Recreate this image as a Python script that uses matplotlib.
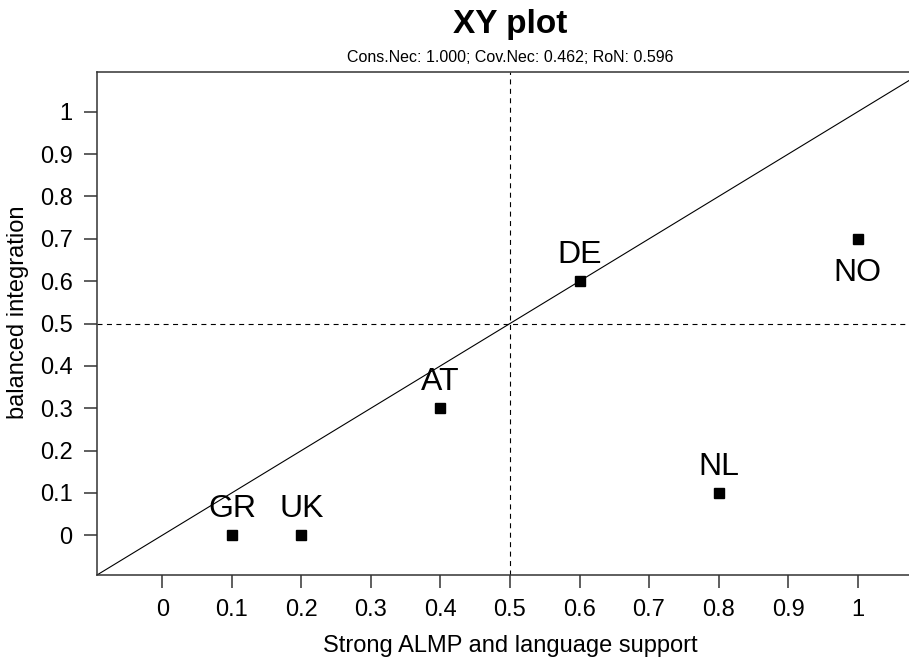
import matplotlib
matplotlib.use('Agg')
import matplotlib.pyplot as plt
from matplotlib.ticker import FuncFormatter

plt.rcParams['font.family'] = ['Liberation Sans', 'DejaVu Sans']

countries = ['GR', 'UK', 'AT', 'DE', 'NL', 'NO']
almp = [0.1, 0.2, 0.4, 0.6, 0.8, 1.0]
integration = [0.0, 0.0, 0.3, 0.6, 0.1, 0.7]
below = ['NO']          # labels drawn under the point

ticks = [i / 10 for i in range(11)]
lim = (-0.094, 1.094)
title = 'XY plot'
subtitle = 'Cons.Nec: 1.000; Cov.Nec: 0.462; RoN: 0.596'
xlab = 'Strong ALMP and language support'
ylab = 'balanced integration'

dark = '#333333'

fig = plt.figure(figsize=(9.09, 6.57), dpi=100)
# the right side of the box is cut off in the reference
ax = fig.add_axes([0.1067, 0.1248, 0.9087, 0.7656])

ax.axline((0, 0), slope=1, color='black', lw=0.8)
ax.axvline(0.5, color='black', lw=0.8, ls=(0, (4.5, 4)))
ax.axhline(0.5, color='black', lw=0.8, ls=(0, (4.5, 4)))

ax.plot(almp, integration, 's', color='black', ms=7.2, ls='none')

for c, xv, yv in zip(countries, almp, integration):
    if c in below:
        off = (0, -42)
    else:
        off = (0, 18)
    ax.annotate(c, (xv, yv), xytext=off, textcoords='offset pixels',
                ha='center', va='baseline', fontsize=23)

ax.set_xlim(lim)
ax.set_ylim(lim)
ax.set_xticks(ticks)
ax.set_yticks(ticks)
fmt = FuncFormatter(lambda v, p: f'{v:g}')
ax.xaxis.set_major_formatter(fmt)
ax.yaxis.set_major_formatter(fmt)
ax.tick_params(axis='both', length=9.5, width=1.1, color=dark,
               pad=8, labelsize=17, labelcolor='black')
for s in ax.spines.values():
    s.set_color(dark)
    s.set_linewidth(1.1)

fig.text(0.561, 1 - 33.3 / 657, title, ha='center', va='baseline',
         fontsize=24, fontweight='bold')
fig.text(0.561, 1 - 61.7 / 657, subtitle, ha='center', va='baseline',
         fontsize=11.5)
fig.text(0.561, 1 - 651.7 / 657, xlab, ha='center', va='baseline',
         fontsize=17)
fig.text(18 / 909, 1 - 312 / 657, ylab, ha='center', va='center',
         rotation=90, fontsize=17)

fig.savefig('out.png', dpi=100)
